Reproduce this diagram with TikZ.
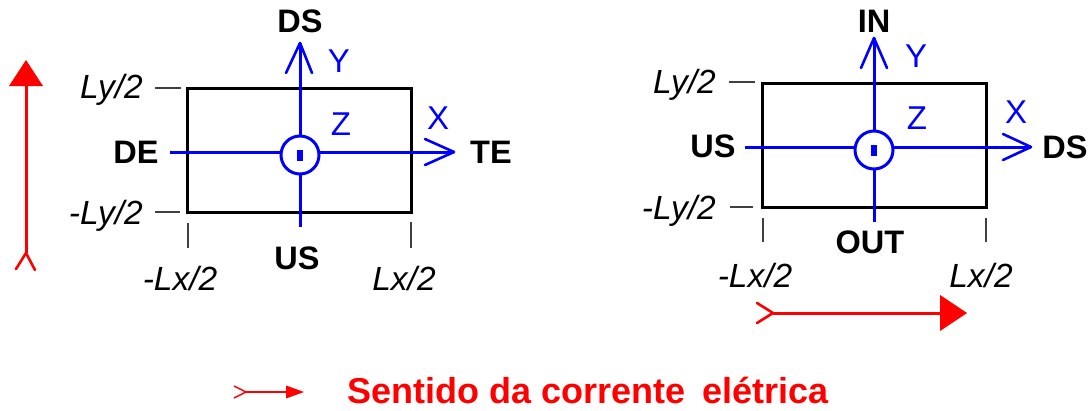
\documentclass[tikz,border=0pt]{standalone}
\usepackage{fontspec}
\setmainfont{Liberation Sans}
\begin{document}
\begin{tikzpicture}[x=1pt,y=-1pt,
  box/.style={draw=black,line width=3pt},
  tickmark/.style={draw=black!75,line width=1.6pt},
  axis/.style={draw=blue,line width=3pt},
  barb/.style={draw=blue,line width=2.6pt,line join=round,line cap=round},
  cur/.style={draw=red,line width=3pt},
  curtail/.style={draw=red,line width=2.6pt,line join=round,line cap=round},
  boldlbl/.style={font=\fontsize{32.5}{32.5}\selectfont\bfseries,inner sep=0pt},
  itallbl/.style={font=\fontsize{33.5}{33.5}\selectfont\itshape,inner sep=0pt},
  axislbl/.style={text=blue,font=\fontsize{33}{33}\selectfont,inner sep=0pt}]
\useasboundingbox (0,0) rectangle (1089,410);

% ================= left diagram =================
\draw[box] (187,88) rectangle (411,212);
\draw[tickmark] (155,88) -- (181,88);
\draw[tickmark] (155,212) -- (180,212);
\draw[tickmark] (188,223) -- (188,248);
\draw[tickmark] (411,222) -- (411,248);

\coordinate (Lc) at (300,155);
\coordinate (Ltop) at (300,43);
\coordinate (Lbot) at (300,227);
\coordinate (Lleft) at (170,152);
\coordinate (Lright) at (454,152);
\draw[axis] (Lbot) -- (300,174);
\draw[axis] (300,136) -- (Ltop);
\draw[axis] (Lleft) -- (281,152);
\draw[axis] (319,152) -- (Lright);
\draw[axis] (Lc) circle[radius=19pt];
\fill[blue] (297.3,150) rectangle (302.8,161);
\draw[barb] (286,73) -- (Ltop) -- (312,73);
\draw[barb] (425,139) -- (Lright) -- (425,165);

\node[boldlbl] (lDS) at (300,21) {DS};
\node[boldlbl] (lTE) at (491,152) {TE};
\node[boldlbl] (lDE) at (136,152) {DE};
\node[boldlbl] (lUS) at (297,258) {US};
\node[axislbl] (lY) at (339,61) {Y};
\node[axislbl] (lZ) at (341,124) {Z};
\node[axislbl] (lX) at (438,118) {X};
\node[itallbl,anchor=base east] (lLy) at (143,98) {Ly/2};
\node[itallbl,anchor=base east] (lmLy) at (143,224) {-Ly/2};
\node[itallbl,anchor=base] (lmLx) at (180,290) {-Lx/2};
\node[itallbl,anchor=base] (lLx) at (404,290) {Lx/2};

% red current arrow (left)
\coordinate (LRtip) at (26,60);
\coordinate (LRtail) at (26,253);
\draw[cur] (LRtail) -- (26,84);
\fill[red] (LRtip) -- (9,86) -- (43,86) -- cycle;
\draw[curtail] (16,269) -- (LRtail) -- (35,270);

% ================= right diagram =================
\draw[box] (762,83) rectangle (986,207);
\draw[tickmark] (729,82) -- (755,82);
\draw[tickmark] (730,207) -- (753,207);
\draw[tickmark] (763,218) -- (763,242);
\draw[tickmark] (986,218) -- (986,242);

\coordinate (Rc) at (874,150);
\coordinate (Rtop) at (874,38);
\coordinate (Rbot) at (874,222);
\coordinate (Rleft) at (745,147);
\coordinate (Rright) at (1031,147);
\draw[axis] (Rbot) -- (874,169);
\draw[axis] (874,131) -- (Rtop);
\draw[axis] (Rleft) -- (855,147);
\draw[axis] (893,147) -- (Rright);
\draw[axis] (Rc) circle[radius=19pt];
\fill[blue] (871.3,145) rectangle (876.8,156);
\draw[barb] (861,68) -- (Rtop) -- (887,68);
\draw[barb] (1003,134) -- (Rright) -- (1003,160);

\node[boldlbl] (rIN) at (874,21) {IN};
\node[boldlbl] (rDS) at (1065,147) {DS};
\node[boldlbl] (rUS) at (713,146) {US};
\node[boldlbl] (rOUT) at (870,242) {OUT};
\node[axislbl] (rY) at (916,56) {Y};
\node[axislbl] (rZ) at (917,118) {Z};
\node[axislbl] (rX) at (1016,112) {X};
\node[itallbl,anchor=base east] (rLy) at (716,93) {Ly/2};
\node[itallbl,anchor=base east] (rmLy) at (716,219) {-Ly/2};
\node[itallbl,anchor=base] (rmLx) at (755,287) {-Lx/2};
\node[itallbl,anchor=base] (rLx) at (981,287) {Lx/2};

% red current arrow (right)
\coordinate (RRtail) at (773,313);
\coordinate (RRtip) at (967,313);
\draw[cur] (RRtail) -- (942,313);
\fill[red] (RRtip) -- (940,295) -- (940,331) -- cycle;
\draw[curtail] (757,303) -- (RRtail) -- (757,323);

% ================= legend =================
\coordinate (Gtail) at (246,392);
\coordinate (Gtip) at (304,392);
\draw[draw=red,line width=1.6pt] (Gtail) -- (288,392);
\fill[red] (Gtip) -- (286,385.5) -- (286,398.5) -- cycle;
\draw[draw=red,line width=1.4pt,line join=round] (234,386) -- (Gtail) -- (234,398);
\node[anchor=base west,inner sep=0pt,text=red,font=\fontsize{36}{36}\selectfont\bfseries] (legend) at (347,403) {Sentido da corrente\hspace{0.2em} elétrica};
\end{tikzpicture}
\end{document}
